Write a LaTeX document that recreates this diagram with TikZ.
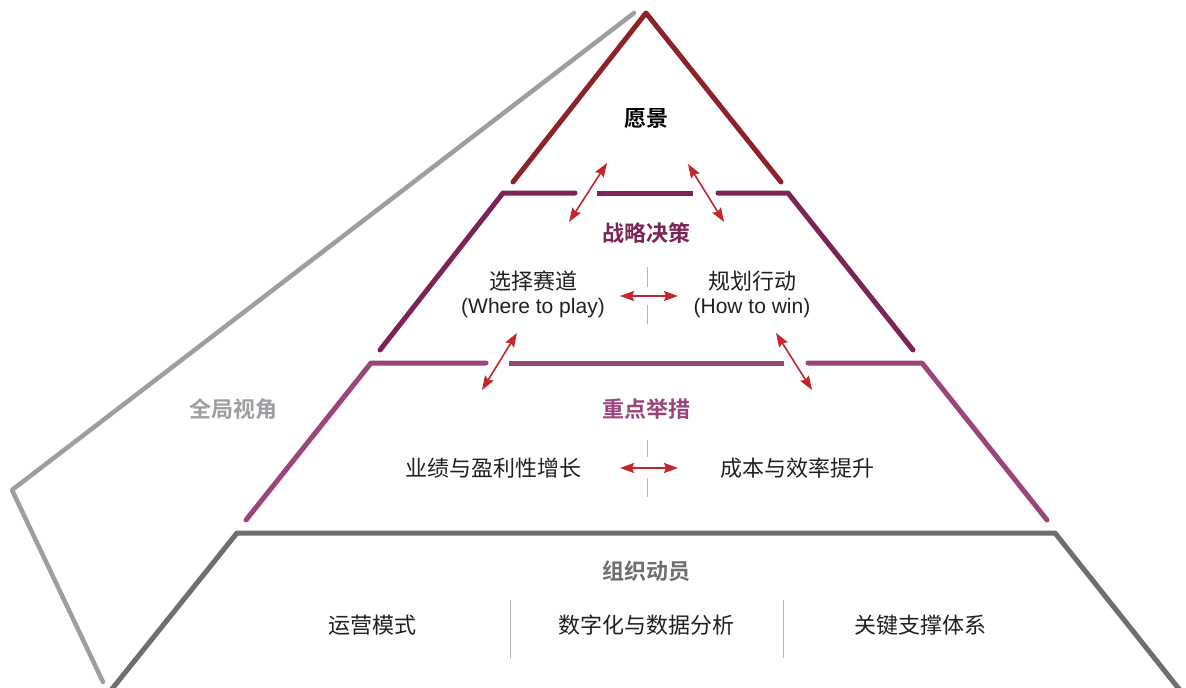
\documentclass[tikz,border=0pt]{standalone}
\usepackage{fontspec}
\setmainfont{Liberation Sans}
\newfontfamily\cjk[BoldFont={Noto Sans CJK SC Bold}]{Noto Sans CJK SC}
\usetikzlibrary{arrows.meta}
\definecolor{cvision}{HTML}{8B2328}
\definecolor{cstrat}{HTML}{7B2456}
\definecolor{cfocus}{HTML}{9B467B}
\definecolor{corg}{HTML}{6D6E71}
\definecolor{cview}{HTML}{9D9EA1}
\definecolor{carrow}{HTML}{C1272D}
\definecolor{ctext}{HTML}{231F20}
\definecolor{csep}{HTML}{B5B5B5}
\tikzset{
  tier/.style={line width=5pt, line cap=round, line join=round},
  gapseg/.style={line width=5pt},
  dblarrow/.style={carrow, line width=1.6pt, {Stealth[length=14pt,width=10pt,inset=2pt]}-{Stealth[length=14pt,width=10pt,inset=2pt]}},
  sepline/.style={csep, line width=1pt},
  body/.style={text=ctext, font=\cjk\fontsize{22}{26}\selectfont, inner sep=0pt},
  latin/.style={text=ctext, font=\fontsize{21}{25}\selectfont, inner sep=0pt},
  title/.style={font=\cjk\bfseries\fontsize{22}{26}\selectfont, inner sep=0pt},
}
\begin{document}
\begin{tikzpicture}[x=1pt,y=-1pt]
\clip (0,0) rectangle (1186,688);
\fill[white] (0,0) rectangle (1186,688);

% global view outline
\draw[tier, cview, line width=4.5pt] (634,13) -- (12,490) -- (103,682);

% vision triangle
\draw[tier, cvision] (513,182) -- (646,13) -- (781,182);

% strategy tier
\draw[tier, cstrat] (380,350) -- (503,193) -- (575,193);
\draw[gapseg, cstrat] (597,193) -- (693,193);
\draw[tier, cstrat] (718,193) -- (788,193) -- (913,350);

% focus tier
\draw[tier, cfocus] (246,520) -- (371,363) -- (486,363);
\draw[gapseg, cfocus] (509,363) -- (784,363);
\draw[tier, cfocus] (808,363) -- (922,363) -- (1047,520);

% organisation tier
\draw[tier, corg] (108,694) -- (237,533) -- (1055,533) -- (1183,694);

% separators
\draw[sepline] (647,267) -- (647,287);
\draw[sepline] (647,305) -- (647,324);
\draw[sepline] (647,440) -- (647,457);
\draw[sepline] (647,478) -- (647,497);
\draw[sepline] (510,600) -- (510,658);
\draw[sepline] (783,600) -- (783,658);

% texts
\node[title, text=black] (vision) at (646,119) {愿景};
\node[title, text=cstrat] (strat) at (646,233) {战略决策};
\node[body] (where) at (533,281) {选择赛道};
\node[latin] (wherel) at (533,308) {(Where to play)};
\node[body] (how) at (752,281) {规划行动};
\node[latin] (howl) at (752,308) {(How to win)};
\node[title, text=cfocus] (focus) at (646,409) {重点举措};
\node[body] (growth) at (493,468) {业绩与盈利性增长};
\node[body] (cost) at (797,468) {成本与效率提升};
\node[title, text=corg] (org) at (646,571) {组织动员};
\node[body] (ops) at (372,625) {运营模式};
\node[body] (digital) at (646,625) {数字化与数据分析};
\node[body] (support) at (920,625) {关键支撑体系};
\node[title, text=cview] (view) at (233,409) {全局视角};

% arrows
\coordinate (a1s) at (607,163); \coordinate (a1e) at (569,222);
\coordinate (a2s) at (688,164); \coordinate (a2e) at (724,222);
\coordinate (a3s) at (620,296); \coordinate (a3e) at (678,296);
\coordinate (a4s) at (517,333); \coordinate (a4e) at (482,390);
\coordinate (a5s) at (776,333); \coordinate (a5e) at (812,390);
\coordinate (a6s) at (620,468); \coordinate (a6e) at (678,468);
\draw[dblarrow] (a1s) -- (a1e);
\draw[dblarrow] (a2s) -- (a2e);
\draw[dblarrow] (a3s) -- (a3e);
\draw[dblarrow] (a4s) -- (a4e);
\draw[dblarrow] (a5s) -- (a5e);
\draw[dblarrow] (a6s) -- (a6e);
\end{tikzpicture}
\end{document}
